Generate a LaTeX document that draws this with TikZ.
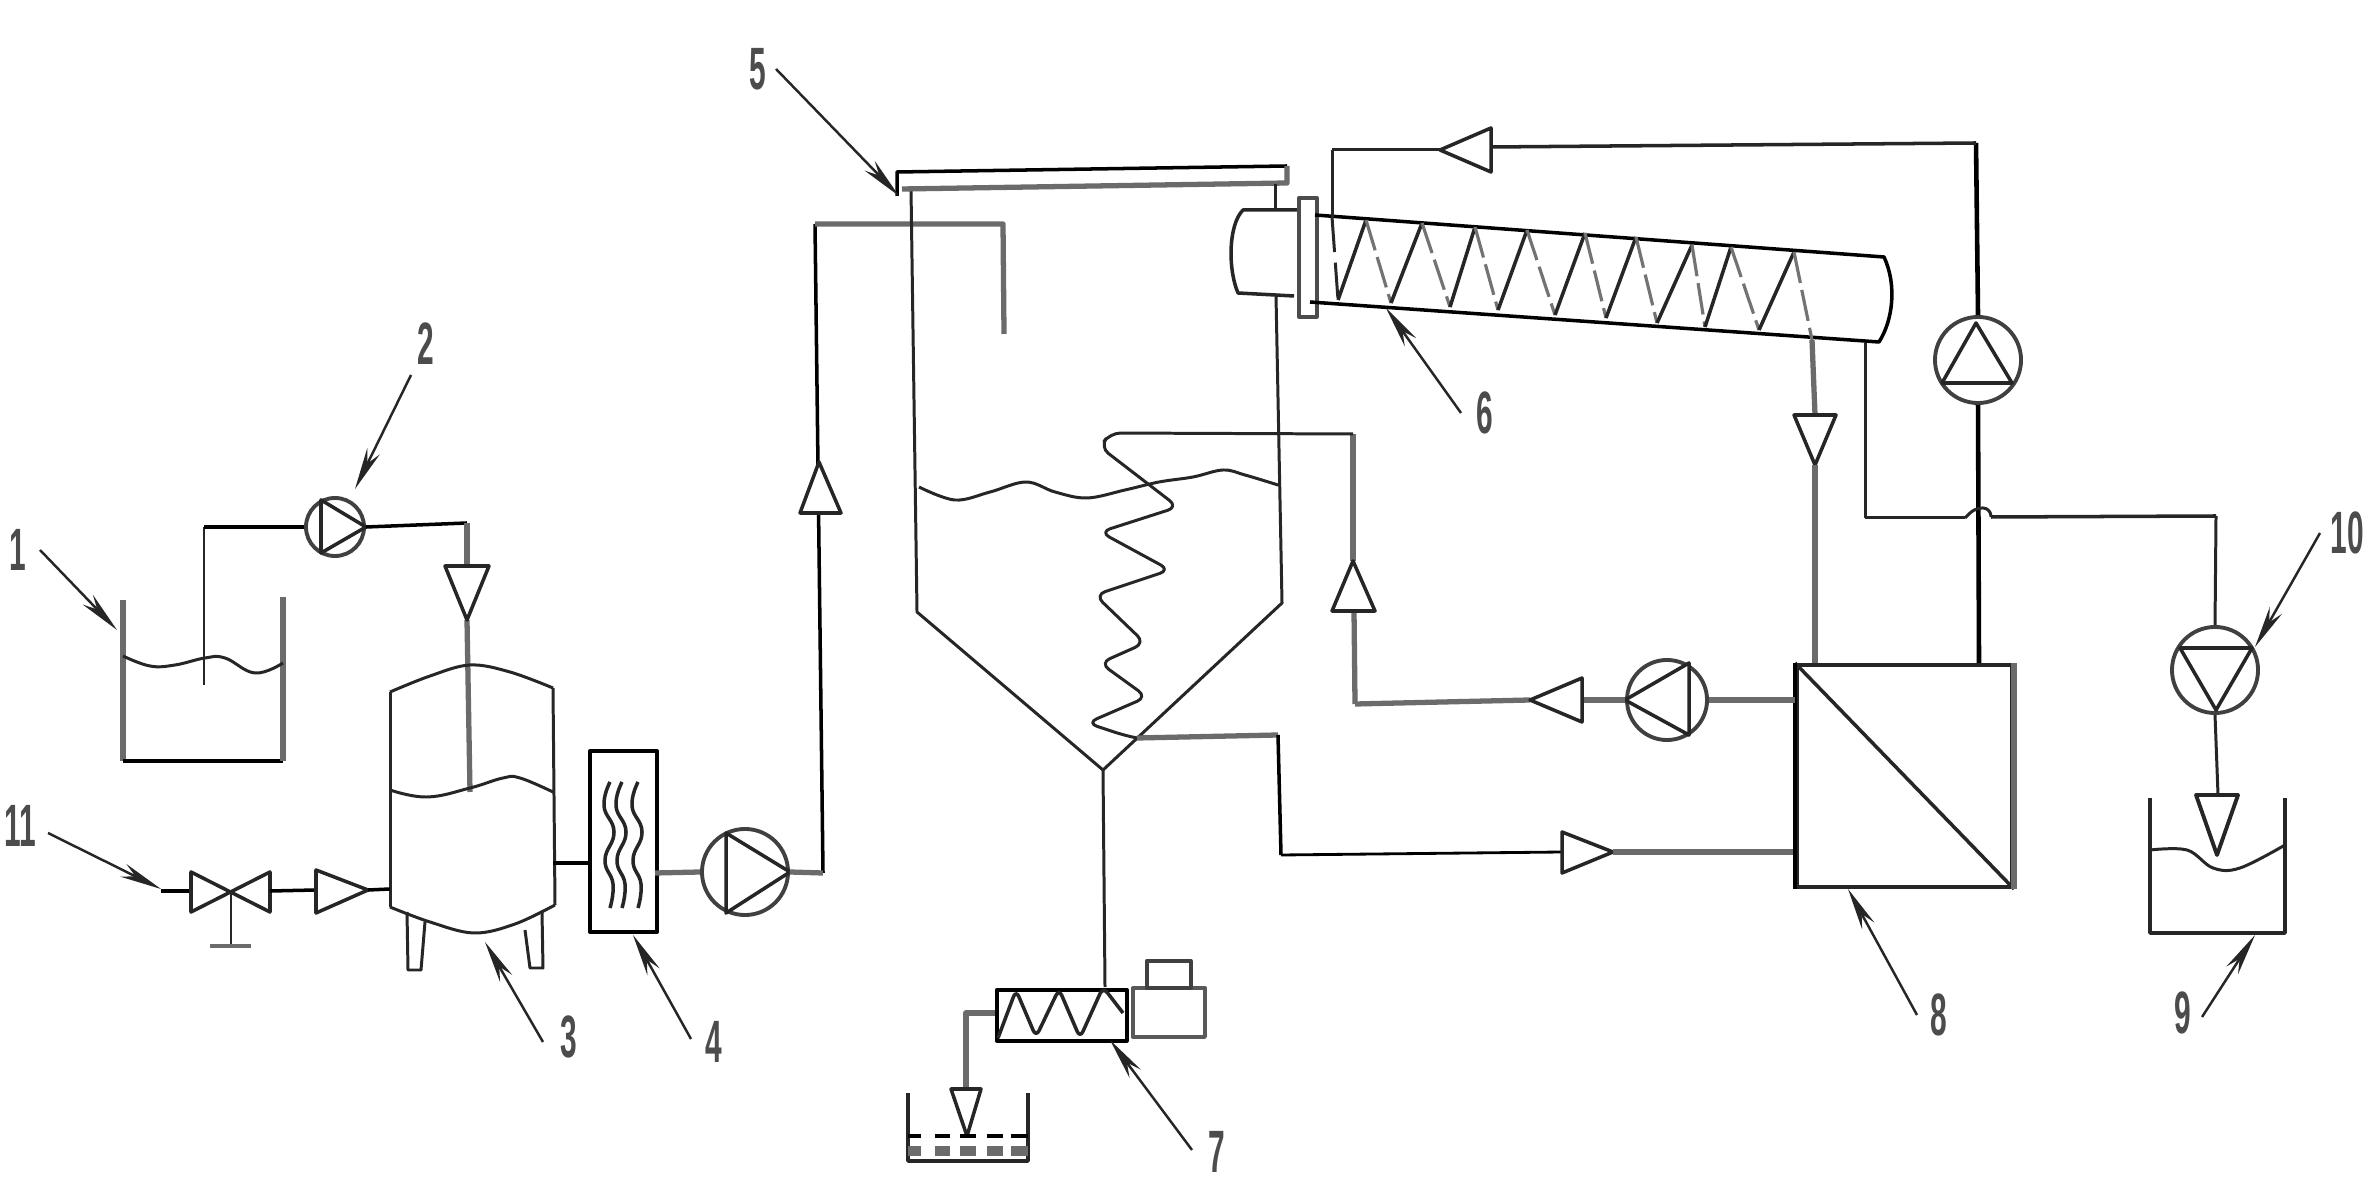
\documentclass[tikz,border=0pt]{standalone}
\usepackage{fontspec}
\setmainfont{Liberation Sans}
\usetikzlibrary{arrows.meta}
\definecolor{hatch}{gray}{0.42}
\tikzset{
  x=0.01cm,y=-0.01cm,
  every path/.style={line join=round},
  pipe/.style={draw=black,line width=1.0pt},
  thinp/.style={draw=black!85,line width=0.85pt},
  grayp/.style={draw=hatch,line width=1.5pt},
  tri/.style={draw=black!85,line width=1pt,fill=white},
  pumpc/.style={circle,draw=black!75,line width=1.1pt,inner sep=0pt,fill=white},
  lead/.style={draw=black!85,line width=0.7pt,-{Stealth[length=0.42cm,width=0.14cm]}},
  lab/.style={font=\bfseries\fontsize{17}{17}\selectfont,text=black!70,inner sep=0pt},
  boxn/.style={rectangle,inner sep=0pt,anchor=north west},
}
\newcommand{\narrow}[1]{\scalebox{0.5}[1]{#1}}
\begin{document}
\begin{tikzpicture}
\useasboundingbox (0,0) rectangle (2370,1186);
\fill[white] (0,0) rectangle (2370,1186);
% labels
\node[lab] (l1) at (18,550) {\narrow{1}};
\node[lab] (l2) at (426,344) {\narrow{2}};
\node[lab] (l3) at (569,1037) {\narrow{3}};
\node[lab] (l4) at (714,1042) {\narrow{4}};
\node[lab] (l5) at (758,69) {\narrow{5}};
\node[lab] (l6) at (1485,413) {\narrow{6}};
\node[lab] (l7) at (1217,1152) {\narrow{7}};
\node[lab] (l8) at (1939,1015) {\narrow{8}};
\node[lab] (l9) at (2183,1013) {\narrow{9}};
\node[lab] (l10) at (2347,533) {\narrow{10}};
\node[lab] (l11) at (20,826) {\narrow{11}};
% named points
\foreach \n/\p in {
 t1a/{123,600},t1b/{123,761},t1c/{283,761},t1d/{283,597},
 dipb/{204,685},dipt/{204,527},e2a/{467,523},a2b/{467,566},a2t/{467,620},t3in/{470,792},
 t3sl/{390,692},t3sr/{553,688},t3a/{470,665},t3bl/{390,907},t3br/{555,905},t3b/{474,933},
 v0/{161,891},vl/{191,891},vr/{270,891},vc/{231,891},vf/{231,946},
 a3b/{316,890},a3t/{368,890},t3lin/{390,889},
 t3o/{553,863},hxl/{588,863},hxr/{655,873},
 r1/{823,873},r1t/{815,224},noz/{1003,224},nozb/{1004,334},a4b/{821,513},a4t/{819,462},
 bar1/{897,172},bar2/{1287,166},bar3/{1287,183},bar4/{902,189},bar5/{897,196},
 cl1/{911,189},cl2/{917,612},tip/{1103,770},cr2/{1282,603},cr1/{1276,296},
 cn1/{1275,184},cn2/{1275,210},
 cap1/{1297,210},cap2/{1243,210},cap3/{1238,293},cap4/{1294,296},
 cyl1/{1315,215},cyl2/{1884,257},cyl3/{1879,342},cyl4/{1310,302},
 fb1/{1332,150},fb2/{1332,217},z0/{1338,300},z1/{1812,340},
 a5b/{1815,415},a5t/{1815,465},m5/{1815,663},
 rp0/{1976,143},a6b/{1491,147},a6t/{1440,150},
 s1/{1865,343},s2/{1865,518},s3/{1965,518},s4/{1991,517},s5/{2216,516},
 mp/{1979,663},
 a10b/{2218,795},a10t/{2217,855},
 coilin/{1353,434},a7t/{1353,561},a7b/{1354,611},c7/{1355,704},c8/{1530,700},a8b/{1582,700},
 dr1/{1137,738},dr2/{1278,735},dr3/{1281,855},a9b/{1562,852},a9t/{1613,852},mb/{1795,852},
 sc1/{1103,770},sc2/{1105,987},o1/{995,1013},o2/{966,1013},a11b/{966,1089},a11t/{967,1136},
 b1/{908,1093},b2/{908,1161},b3/{1028,1161},b4/{1028,1093},
 t9a/{2150,798},t9b/{2150,933},t9c/{2285,933},t9d/{2285,798},
 t1/{117,630},t2/{355,489},t3/{485,942},t4/{633,935},t5/{899,196},t6/{1386,308},t7/{1110,1040},t8/{1848,889},t9/{2255,935},t10/{2255,647},t11/{161,889}}
 {\coordinate (\n) at (\p);}
% tank 1
\draw[grayp] (t1a)--(t1b);
\draw[pipe] (t1b)--(t1c);
\draw[grayp] (t1c)--(t1d);
\draw[thinp] plot[smooth,tension=.7] coordinates {(123,656)(150,666)(175,665)(205,658)(225,658)(255,673)(283,663)};
% pump 2 and feed
\node[pumpc,minimum size=0.58cm] (p2) at (335,527) {};
\draw[tri] (321,500)--(321,553)--(p2.east)--cycle;
\draw[thinp] (dipb)--(dipt);
\draw[pipe] (dipt)--(p2.west);
\draw[pipe] (p2.east)--(e2a);
\draw[grayp] (e2a)--(a2b);
\draw[grayp] (a2t)--(t3in);
\draw[tri] (445,566)--(489,566)--(a2t)--cycle;
% tank 3
\draw[thinp] (t3sl)--(t3bl);
\draw[thinp] (t3sr)--(t3br);
\draw[thinp] plot[smooth,tension=.6] coordinates {(t3sl)(430,676)(t3a)(510,672)(t3sr)};
\draw[thinp] plot[smooth,tension=.6] coordinates {(t3bl)(430,922)(t3b)(515,924)(t3br)};
\draw[thinp] plot[smooth,tension=.7] coordinates {(390,790)(427,797)(470,788)(503,778)(520,778)(553,792)};
\draw[thinp] (407,912)--(408,970)--(421,970)--(425,922);
\draw[thinp] (525,930)--(530,968)--(543,968)--(542,912);
% valve
\draw[pipe] (v0)--(vl);
\draw[tri,fill=none] (191,872)--(191,912)--(270,872)--(270,912)--cycle;
\draw[thinp] (vc)--(vf);
\draw[grayp,line width=1pt] (210,946)--(251,946);
\draw[pipe] (vr)--(a3b);
\draw[tri] (316,870)--(316,913)--(a3t)--cycle;
\draw[pipe] (a3t)--(t3lin);
% heat exchanger
\node[boxn,draw=black,line width=1.1pt,minimum width=0.67cm,minimum height=1.81cm] (hx) at (588,749) {};
\foreach \xx in {610,622,638}
 \draw[thinp,line width=1pt] plot[smooth,tension=.8] coordinates {(\xx,782)(\xx-6,806)(\xx+4,832)(\xx-5,860)(\xx+3,884)(\xx,908)};
\draw[pipe,line width=1.3pt] (t3o)--(hxl);
% pump 4
\node[pumpc,minimum size=0.86cm] (p4) at (745,872) {};
\draw[tri] (726,833)--(726,913)--(p4.east)--cycle;
\draw[grayp] (hxr)--(p4.west);
\draw[pipe] (r1t)--(r1);
\draw[grayp] (p4.east)--(r1);
\draw[grayp] (r1t)--(noz)--(nozb);
\draw[tri] (800,513)--(841,513)--(a4t)--cycle;
% column
\draw[thinp] (cl1)--(cl2)--(tip)--(cr2)--(cr1);
\draw[pipe] (bar5)--(bar1)--(bar2);
\draw[grayp] (bar2)--(bar3)--(bar4);
\draw[thinp] plot[smooth,tension=.6] coordinates {(919,487)(955,500)(990,492)(1026,482)(1055,492)(1087,498)(1125,490)(1159,482)(1193,477)(1223,470)(1245,475)(1278,485)};
% coil
\draw[grayp] (c7)--(a7b);
\draw[grayp] (coilin)--(a7t);
\draw[tri] (1332,611)--(1375,611)--(a7t)--cycle;
\draw[thinp,rounded corners=3pt] (coilin)--(1110,433)--(1100,447)--(1178,507)--(1100,532)--(1170,570)--(1095,595)--(1145,643)--(1100,663)--(1147,697)--(1087,723)--(1123,735)--(dr1);
\draw[grayp] (dr1)--(dr2);
\draw[pipe] (dr2)--(dr3);
\draw[pipe,line width=.8pt] (dr3)--(a9b);
\draw[tri] (1562,832)--(1562,873)--(a9t)--cycle;
\draw[grayp] (a9t)--(mb);
% separator
\draw[thinp] (cn1)--(cn2);
\draw[thinp,line width=1pt] (cap1)--(cap2) .. controls (1228,225) and (1228,270) .. (cap3)--(cap4);
\node[boxn,draw=black!70,line width=1pt,minimum width=0.18cm,minimum height=1.19cm] (fl) at (1297,196) {};
\draw[pipe] (cyl1)--(cyl2) .. controls (1897,285) and (1893,320) .. (cyl3)--(cyl4);
\draw[thinp] (fb1)--(fb2);
\draw[thinp,dash pattern=on 10pt off 3pt] (fb2)--(z0);
\foreach \bx/\by/\tx/\ty/\nx/\ny in {1338/300/1366/220/1391/303,1391/303/1422/223/1450/307,1450/307/1475/227/1498/310,1498/310/1527/230/1555/315,1555/315/1585/233/1606/318,1606/318/1636/237/1657/323,1657/323/1692/245/1705/327,1705/327/1731/247/1759/330,1759/330/1794/252/1812/340}{
 \draw[thinp,line width=1pt] (\bx,\by)--(\tx,\ty);
 \draw[draw=black!55,line width=.9pt,dash pattern=on 9pt off 2pt] (\tx,\ty)--(\nx,\ny);
}
\draw[grayp] (z1)--(a5b);
\draw[tri] (1794,415)--(1836,415)--(a5t)--cycle;
\draw[grayp] (a5t)--(m5);
% membrane
\node[boxn,draw=black!85,line width=1.1pt,minimum width=2.15cm,minimum height=2.22cm] (mem) at (1795,663) {};
\draw[thinp,line width=1pt] (mem.north west)--(mem.south east);
\draw[pipe,line width=1.3pt] (mem.north west)--(mem.south west);
\draw[grayp] (mem.north east)--(mem.south east);
% mid pump
\node[pumpc,minimum size=0.8cm] (p8) at (1667,700) {};
\draw[tri] (1689,663)--(1689,735)--(p8.west)--cycle;
\draw[grayp] (c7)--(c8);
\draw[grayp] (a8b)--(p8.west);
\draw[tri] (1582,678)--(1582,722)--(c8)--cycle;
\draw[grayp] (p8.east)--(1795,700);
% pump recycle up
\node[pumpc,minimum size=0.86cm] (p6) at (1978,360) {};
\draw[tri] (1976,323)--(1942,383)--(2012,383)--cycle;
\draw[pipe,line width=1.3pt] (p6.north)--(rp0);
\draw[thinp,line width=1pt] (rp0)--(a6b);
\draw[tri] (1491,128)--(1491,172)--(a6t)--cycle;
\draw[thinp] (a6t)--(fb1);
\draw[pipe,line width=1.3pt] (p6.south)--(mp);
% side pipe with hump
\draw[thinp] (s1)--(s2)--(s3);
\draw[thinp,rounded corners=2pt] (s3)--(1975,508)--(1990,508)--(s4);
\draw[thinp,line width=1pt] (s4)--(s5);
% pump 10
\node[pumpc,minimum size=0.86cm] (p10) at (2215,670) {};
\draw[thinp] (s5)--(p10.north);
\draw[tri] (2180,648)--(2252,648)--(2216,710)--cycle;
\draw[thinp] (p10.south)--(a10b);
\draw[tri,line width=1.1pt] (2196,795)--(2238,795)--(a10t)--cycle;
% tank 9
\draw[thinp,line width=1pt] (t9a)--(t9b)--(t9c)--(t9d);
\draw[thinp] plot[smooth,tension=.6] coordinates {(2150,850)(2187,850)(2213,868)(2240,868)(2285,845)};
% screw conveyor
\draw[thinp] (sc1)--(sc2);
\node[boxn,draw=black,line width=1pt,minimum width=1.3cm,minimum height=0.51cm] (scr) at (995,988) {};
\node[boxn,draw=black!65,line width=1.1pt,minimum width=0.72cm,minimum height=0.49cm] (mot) at (1131,986) {};
\node[boxn,draw=black!75,line width=1pt,minimum width=0.44cm,minimum height=0.27cm] (mot2) at (1145,959) {};
\draw[thinp,line width=1pt,rounded corners=2pt] (998,1038)--(1016,990)--(1036,1037)--(1059,989)--(1080,1038)--(1103,987)--(1123,1013);
\draw[grayp] (o1)--(o2)--(a11b);
\draw[tri] (951,1089)--(981,1089)--(a11t)--cycle;
\draw[thinp,line width=1pt] (b1)--(b2)--(b3)--(b4);
\foreach \xa/\xb in {908/921,935/950,960/976,987/1003,1011/1028}{
 \draw[pipe] (\xa,1136)--(\xb,1136);
 \draw[draw=hatch,line width=3pt] (\xa,1151)--(\xb,1151);
}
% leaders
\draw[lead] (40,550)--(t1);
\draw[lead] (411,375)--(t2);
\draw[lead] (543,1042)--(t3);
\draw[lead] (691,1039)--(t4);
\draw[lead] (776,69)--(t5);
\draw[lead] (1461,413)--(t6);
\draw[lead] (1192,1150)--(t7);
\draw[lead] (1917,1015)--(t8);
\draw[lead] (2202,1017)--(t9);
\draw[lead] (2320,533)--(t10);
\draw[lead] (48,833)--(t11);
\end{tikzpicture}
\end{document}
